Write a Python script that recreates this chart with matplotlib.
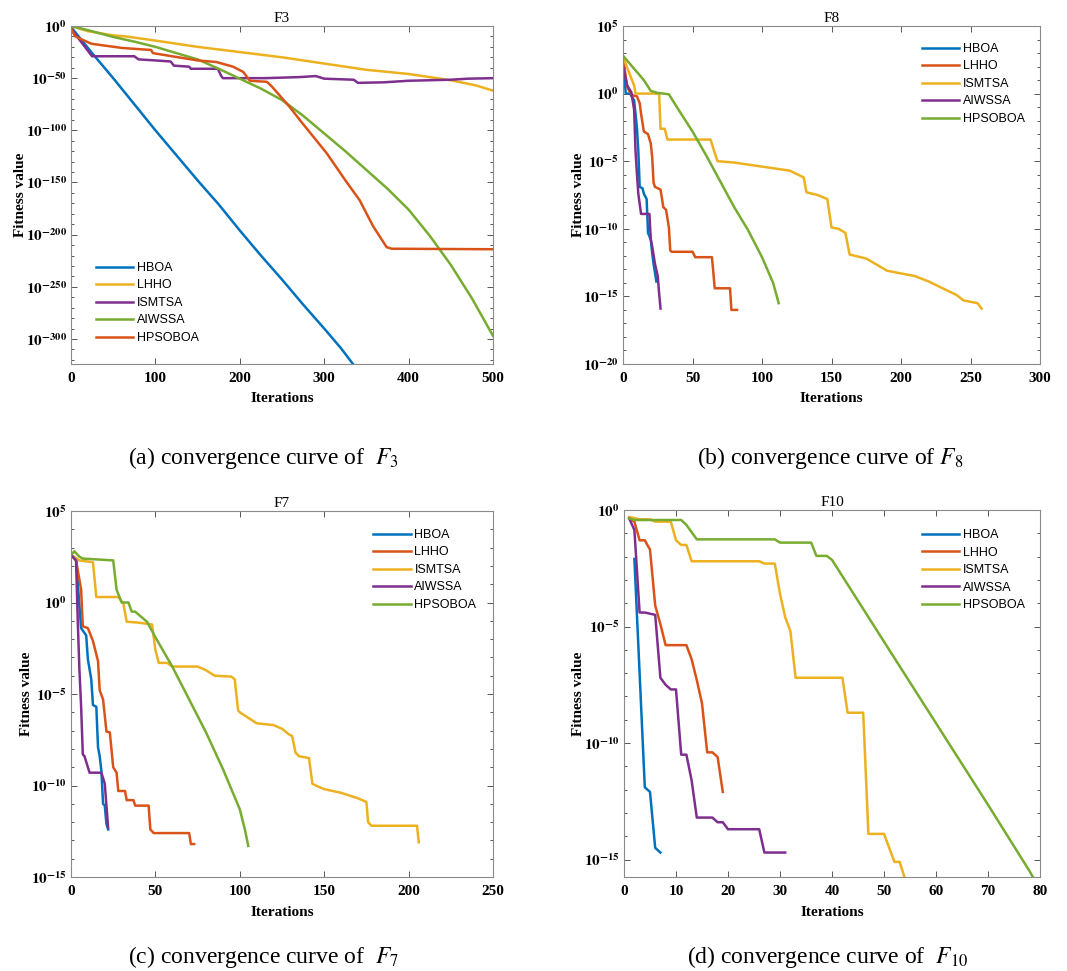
import matplotlib
matplotlib.use('Agg')
import matplotlib.pyplot as plt
from matplotlib.ticker import MultipleLocator, FuncFormatter

plt.rcParams['mathtext.fontset'] = 'stix'
plt.rcParams['font.family'] = ['Liberation Serif', 'DejaVu Serif']

W, H = 1067, 971

# matlab default line colours
BLUE = '#0072BD'
ORANGE = '#D95319'
YELLOW = '#EDB120'
PURPLE = '#7E2F8E'
GREEN = '#77AC30'

names = ['HBOA', 'LHHO', 'ISMTSA', 'AIWSSA', 'HPSOBOA']

# all curves: (iteration, log10(fitness value))
# --- F3 ---
f3_hboa = [(0, -1), (25, -26), (50, -50), (75, -75), (100, -100), (125, -124),
           (150, -148), (175, -171), (200, -196), (225, -220), (250, -243),
           (275, -267), (300, -290), (320, -309), (335, -325)]
f3_lhho = [(0, 0), (20, -5), (50, -9), (65, -10), (100, -14), (150, -20), (200, -25),
           (250, -30), (300, -36), (350, -42), (400, -46), (450, -52), (480, -57),
           (500, -62)]
f3_ismtsa = [(0, -2.5), (25, -29), (75, -29), (80, -32), (100, -33), (118, -34),
             (122, -38), (140, -39), (142, -41), (174, -41), (178, -48), (180, -50),
             (230, -50), (270, -49), (290, -48), (300, -50.5), (335, -51.5),
             (340, -54.5), (370, -54), (400, -52.5), (450, -51.5), (470, -50.5),
             (500, -50)]
f3_aiwssa = [(0, 0), (25, -5), (50, -10.5), (75, -15), (100, -20), (125, -26),
             (150, -32), (175, -41), (200, -50.5), (225, -60), (250, -71), (275, -86),
             (300, -103), (325, -120), (350, -138), (375, -156), (400, -176),
             (425, -201), (450, -229), (475, -261), (500, -297)]
f3_hpsoboa = [(0, -2.5), (5, -10), (24, -17), (60, -21), (95, -23), (97, -26),
              (150, -33), (172, -34.5), (192, -39), (204, -44), (212, -52.5),
              (232, -53.5), (238, -58), (259, -77.5), (271, -90), (287, -106),
              (303, -122), (326, -149), (342, -167), (358, -192), (374, -212),
              (380, -213.5), (500, -214)]

# --- F8 ---
f8_hboa = [(0, 2.5), (2, 0), (5, 0), (8, -0.5), (10, -2.5), (11, -4.2), (12, -6.9),
           (14, -7), (15, -7.4), (17, -7.8), (18, -10.3), (20, -10.8), (21, -11.8),
           (22, -12.6), (24, -13.9)]
f8_lhho = [(0, 2.7), (3, 0.5), (6, -0.1), (10, -0.2), (12, -0.7), (13, -1.5),
           (15, -2.8), (18, -3), (20, -3.7), (21, -4.7), (22, -6.6), (23, -6.9),
           (27, -7.1), (29, -8.4), (31, -8.6), (33, -9.9), (34, -11.6), (35, -11.7),
           (50, -11.7), (52, -12.1), (64, -12.1), (66, -14.4), (77, -14.4),
           (78, -16), (82, -16)]
f8_ismtsa = [(0, 2.7), (8, 0.6), (9, 0), (26, 0), (27, -2.6), (30, -2.6), (32, -3.4),
             (63, -3.4), (66, -4.4), (68, -5), (80, -5.1), (100, -5.4), (120, -5.7),
             (130, -6.2), (132, -7.3), (140, -7.5), (147, -7.8), (150, -9.9),
             (155, -10), (160, -10.3), (163, -11.9), (175, -12.2), (190, -13.1),
             (210, -13.5), (220, -13.9), (240, -14.9), (245, -15.3), (255, -15.5),
             (258, -15.9)]
f8_aiwssa = [(0, 2), (3, 0.6), (6, 0.1), (8, -1.2), (9, -4.2), (10, -5.9), (11, -7.4),
             (13, -8.9), (19, -8.9), (20, -10.8), (21, -11.3), (23, -12.6),
             (25, -13.5), (26, -14.8), (27, -15.9)]
f8_hpsoboa = [(0, 2.8), (10, 1.6), (15, 1), (20, 0.2), (25, 0.05), (33, -0.05),
              (40, -1.2), (50, -2.8), (60, -4.6), (70, -6.5), (80, -8.4), (90, -10.1),
              (100, -12.1), (108, -14), (112, -15.5)]

# --- F7 ---
f7_hboa = [(0, 2.6), (3, 2.4), (5, -0.2), (6, -1.4), (9, -1.8), (10, -3.1), (12, -4.2),
           (13, -5.6), (15, -5.7), (16, -7.9), (17, -8.4), (18, -9.2), (19, -11),
           (20, -11.1), (21, -12.1), (22, -12.4)]
f7_lhho = [(0, 2.6), (3, 2.3), (6, 0.7), (7, -1.3), (10, -1.4), (13, -2.1), (16, -3.2),
           (17, -4.8), (19, -5.3), (21, -7.05), (23, -7.1), (25, -9), (27, -9.3),
           (28, -10.3), (32, -10.3), (33, -10.8), (37, -10.8), (38, -11.1),
           (46, -11.1), (47, -12.4), (49, -12.6), (70, -12.6), (71, -13.2), (73, -13.2)]
f7_ismtsa = [(0, 2.6), (5, 2.3), (13, 2.2), (15, 0.3), (28, 0.3), (31, -0.05),
             (33, -1.05), (40, -1.1), (48, -1.2), (50, -2.6), (52, -3.3), (57, -3.3),
             (60, -3.5), (75, -3.5), (80, -3.7), (85, -4), (95, -4.05), (97, -4.2),
             (99, -5.9), (100, -6), (105, -6.3), (110, -6.6), (120, -6.7), (125, -6.9),
             (129, -7.2), (131, -7.3), (133, -8.2), (135, -8.4), (141, -8.5),
             (143, -9.9), (145, -10), (150, -10.2), (160, -10.4), (170, -10.7),
             (175, -10.9), (176, -12), (178, -12.2), (205, -12.2), (206, -13.1)]
f7_aiwssa = [(0, 2.6), (3, 2.3), (4, -1), (5, -3.7), (6, -5.7), (7, -8.3), (8, -8.4),
             (10, -9), (11, -9.3), (18, -9.3), (20, -9.9), (21, -11.1), (22, -12.3)]
f7_hpsoboa = [(0, 2.6), (2, 2.8), (5, 2.5), (7, 2.4), (25, 2.3), (27, 0.7), (30, 0),
              (34, 0), (36, -0.5), (38, -0.5), (45, -1.05), (50, -1.9), (60, -3.5),
              (70, -5.3), (80, -7.1), (90, -9.1), (100, -11.3), (103, -12.4),
              (105, -13.3)]

# --- F10 ---
f10_hboa = [(2, -2.1), (3, -7), (4, -11.9), (5, -12.1), (6, -14.5), (7, -14.7)]
f10_lhho = [(1, -0.36), (2, -0.5), (3, -1.3), (4, -1.3), (5, -1.7), (6, -4.1),
            (7, -4.9), (8, -5.8), (12, -5.8), (13, -6.4), (14, -7.3), (15, -8.3),
            (16, -10.4), (17, -10.4), (18, -10.6), (19, -12.1)]
f10_ismtsa = [(1, -0.3), (3, -0.4), (5, -0.4), (6, -0.5), (9, -0.5), (10, -1.3),
              (11, -1.5), (12, -1.5), (13, -2.2), (26, -2.2), (27, -2.3), (29, -2.3),
              (30, -3.6), (31, -4.6), (32, -5.2), (33, -7.2), (42, -7.2), (43, -8.7),
              (46, -8.7), (47, -13.9), (50, -13.9), (52, -15.1), (53, -15.1),
              (55, -16.5)]
f10_aiwssa = [(1, -0.36), (2, -0.86), (3, -4.4), (4, -4.4), (6, -4.5), (7, -7.2),
              (8, -7.5), (9, -7.7), (10, -7.7), (11, -10.5), (12, -10.5), (13, -11.6),
              (14, -13.2), (17, -13.2), (18, -13.4), (19, -13.4), (20, -13.7),
              (26, -13.7), (27, -14.7), (31, -14.7)]
f10_hpsoboa = [(1, -0.36), (2, -0.43), (11, -0.43), (12, -0.64), (14, -1.26),
               (29, -1.26), (30, -1.4), (36, -1.4), (37, -1.97), (39, -1.97),
               (40, -2.14), (50, -5.65), (60, -9.15), (70, -12.65), (78, -15.5),
               (79, -15.9)]


def px_box(left, top, right, bottom):
    return [left / W, 1 - bottom / H, (right - left) / W, (bottom - top) / H]


def exp_label(v, pos):
    return r'$\mathbf{10^{%d}}$' % round(v)


def draw_panel(fig, box, title, curves, colors, xlim, xstep, ylim, ystep, ymstep,
               leg_xy, ylab_x, xlab_y):
    ax = fig.add_axes(px_box(*box))
    for pts, c, n in zip(curves, colors, names):
        x, y = zip(*pts)
        ax.plot(x, y, color=c, lw=1.8, label=n)
    ax.set_xlim(*xlim)
    ax.set_ylim(*ylim)
    xt = list(range(xlim[0], xlim[1] + 1, xstep))
    ax.set_xticks(xt, [str(v) for v in xt], fontweight='bold')
    ax.yaxis.set_major_locator(MultipleLocator(ystep))
    ax.yaxis.set_minor_locator(MultipleLocator(ymstep))
    ax.yaxis.set_major_formatter(FuncFormatter(exp_label))
    ax.tick_params(which='both', direction='in', top=True, right=True,
                   color='#555555', width=0.7, labelsize=11)
    ax.tick_params(which='major', length=4)
    ax.tick_params(which='minor', length=2.5)
    ax.tick_params(axis='x', pad=6)
    ax.tick_params(axis='y', pad=3)
    for s in ax.spines.values():
        s.set_color('#8a8a8a')
        s.set_linewidth(0.8)
    ax.set_title(title, fontsize=11, pad=3)
    ax.set_xlabel('Iterations', fontsize=11, fontweight='bold')
    ax.set_ylabel('Fitness value', fontsize=11, fontweight='bold')
    ax.xaxis.set_label_coords(0.5, xlab_y)
    ax.yaxis.set_label_coords(ylab_x, 0.5)
    ax.legend(loc='upper left', bbox_to_anchor=leg_xy, frameon=False,
              prop={'family': 'Liberation Sans', 'size': 9},
              handlelength=3.0, handletextpad=0.3, labelspacing=0.44,
              borderpad=0, borderaxespad=0)
    return ax


fig = plt.figure(figsize=(W / 100, H / 100), dpi=100)

draw_panel(fig, (71, 26, 493, 364), 'F3',
           [f3_hboa, f3_lhho, f3_ismtsa, f3_aiwssa, f3_hpsoboa],
           [BLUE, YELLOW, PURPLE, GREEN, ORANGE],
           (0, 500), 100, (-324, 0), 50, 10, (0.059, 0.302), -0.105, -0.082)

draw_panel(fig, (623, 26, 1040, 364), 'F8',
           [f8_hboa, f8_lhho, f8_ismtsa, f8_aiwssa, f8_hpsoboa],
           [BLUE, ORANGE, YELLOW, PURPLE, GREEN],
           (0, 300), 50, (-20, 5), 5, 1, (0.717, 0.950), -0.090, -0.082)

draw_panel(fig, (71, 511, 493, 877), 'F7',
           [f7_hboa, f7_lhho, f7_ismtsa, f7_aiwssa, f7_hpsoboa],
           [BLUE, ORANGE, YELLOW, PURPLE, GREEN],
           (0, 250), 50, (-15, 5), 5, 1, (0.716, 0.951), -0.090, -0.080)

draw_panel(fig, (624, 510, 1040, 877), 'F10',
           [f10_hboa, f10_lhho, f10_ismtsa, f10_aiwssa, f10_hpsoboa],
           [BLUE, ORANGE, YELLOW, PURPLE, GREEN],
           (0, 80), 10, (-15.75, 0), 5, 1, (0.716, 0.948), -0.093, -0.080)

captions = [(263, 458, r'(a) convergence curve of  $F_3$'),
            (830, 458, r'(b) convergence curve of $F_8$'),
            (264, 957, r'(c) convergence curve of  $F_7$'),
            (828, 957, r'(d) convergence curve of  $F_{10}$')]
for cx, cy, txt in captions:
    fig.text(cx / W, 1 - cy / H, txt, ha='center', va='center', fontsize=17)

fig.savefig('out.png', dpi=100)
